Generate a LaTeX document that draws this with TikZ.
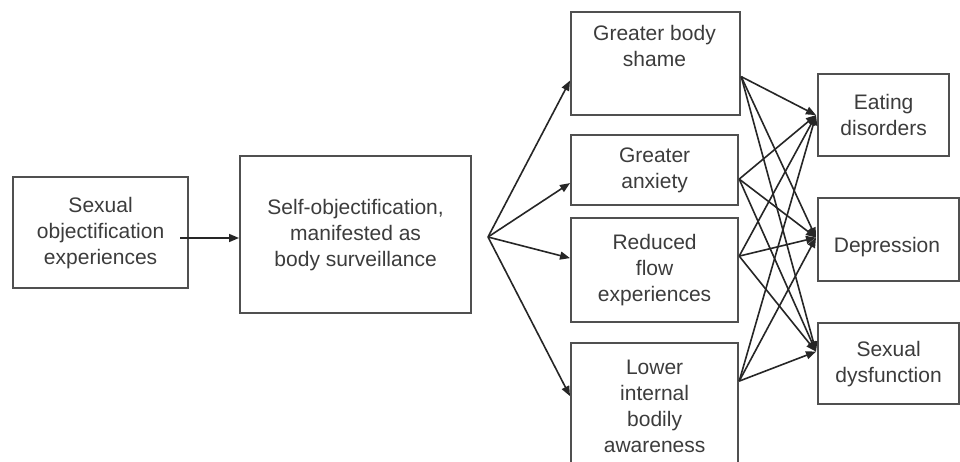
\documentclass[tikz,border=0pt]{standalone}
\usepackage{fontspec}
\setmainfont{Liberation Sans}
\usetikzlibrary{arrows.meta}
\definecolor{boxc}{HTML}{505050}
\definecolor{txtc}{HTML}{3C3C3C}
\definecolor{arrc}{HTML}{262626}
\begin{document}
\begin{tikzpicture}[x=1pt,y=-1pt,
  box/.style={draw=boxc,line width=2.2pt,fill=white,inner sep=0pt,anchor=north west,text=txtc,align=center,font=\fontsize{21}{26}\selectfont},
  lbl/.style={inner sep=0pt,text=txtc,align=center,font=\fontsize{21}{26}\selectfont},
  arr/.style={draw=arrc,line width=1.6pt,-{Triangle[length=10pt,width=8pt]}}]
\clip (0,0) rectangle (960,461);
\fill[white] (0,0) rectangle (960,461);
% boxes
\node[box,minimum width=175pt,minimum height=111pt] (soe) at (12,176) {Sexual\\objectification\\experiences};
\node[box,minimum width=231pt,minimum height=157pt] (so) at (239,155) {Self-objectification,\\manifested as\\body surveillance};
\node[box,minimum width=169pt,minimum height=103pt] (gs) at (570,11) {};
\node[lbl] (gst) at (654.5,46) {Greater body\\shame};
\node[box,minimum width=167pt,minimum height=70pt] (ga) at (570,134) {Greater\\anxiety};
\node[box,minimum width=167pt,minimum height=104pt] (rf) at (570,217) {Reduced\\flow\\experiences};
\node[box,minimum width=167pt,minimum height=126pt] (li) at (570,342) {Lower\\internal\\bodily\\awareness};
\node[box,minimum width=131pt,minimum height=82pt] (ed) at (817,73) {Eating\\disorders};
\node[box,minimum width=141pt,minimum height=83pt] (dp) at (817,197) {};
\node[lbl] (dpt) at (887,247) {Depression};
\node[box,minimum width=141pt,minimum height=81pt] (sd) at (817,322) {Sexual\\dysfunction};
% first arrow
\coordinate (s1) at (180,238);
\draw[arr] (s1) -- (so.west |- s1);
% fan
\coordinate (fan) at (488,237);
\draw[arr] (fan) -- ([yshift=-17pt]gs.west);
\draw[arr] (fan) -- ([yshift=-13pt]ga.west);
\draw[arr] (fan) -- ([yshift=12pt]rf.west);
\draw[arr] (fan) -- ([yshift=10pt]li.west);
% sources and targets
\coordinate (a1) at ([yshift=-13pt]gs.east);
\coordinate (a2) at ([yshift=-9pt]ga.east);
\coordinate (a3) at ([yshift=14pt]rf.east);
\coordinate (a4) at ([yshift=25pt]li.east);
\coordinate (b1) at ([xshift=-1pt]ed.west);
\coordinate (b2) at ([xshift=-1pt,yshift=2pt]dp.west);
\coordinate (b3) at ([xshift=-1pt,yshift=12pt]sd.west);
\foreach \a in {a1,a2,a3,a4}{
  \foreach \b in {b1,b2,b3}{
    \draw[arr] (\a) -- (\b);
  }
}
\end{tikzpicture}
\end{document}
